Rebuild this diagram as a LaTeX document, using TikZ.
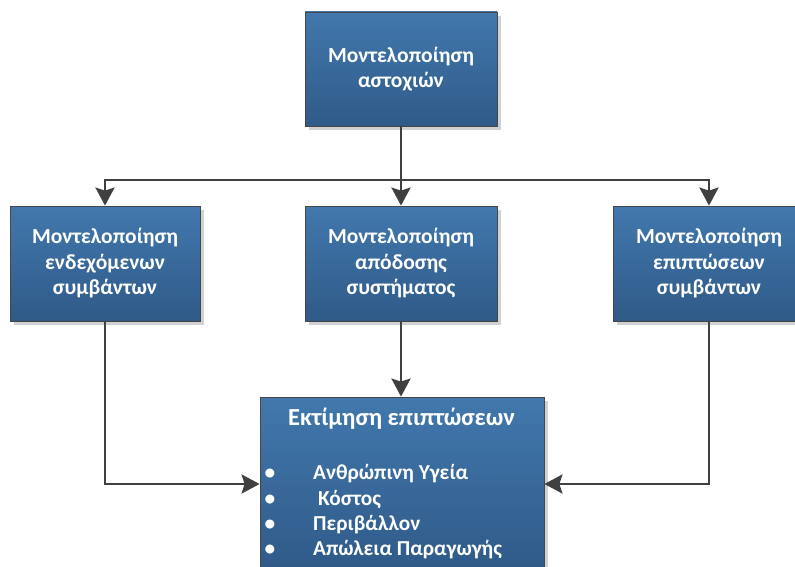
\documentclass[tikz,border=0pt]{standalone}
\usepackage{fontspec}
\setmainfont{Carlito}
\usetikzlibrary{arrows.meta,shadows}
\definecolor{boxtop}{RGB}{66,120,173}
\definecolor{boxbot}{RGB}{47,90,136}
\definecolor{boxedge}{RGB}{70,70,70}
\definecolor{wire}{RGB}{64,64,64}
\tikzset{
  modelbox/.style={rectangle, draw=boxedge, line width=0.8pt,
    top color=boxtop, bottom color=boxbot,
    general shadow={fill=black!18, shadow xshift=4pt, shadow yshift=-4pt},
    text=white, align=center, inner sep=0pt,
    font=\bfseries\fontsize{21.5}{25.5}\selectfont},
  wirearrow/.style={draw=wire, line width=2.8pt,
    -{Stealth[length=18pt,width=19pt,inset=3pt]}},
  boxtext/.style={text=white, inner sep=0pt, anchor=base west,
    font=\bfseries\fontsize{21.3}{25.5}\selectfont},
}
\begin{document}
\begin{tikzpicture}[x=1pt,y=-1pt]
  \useasboundingbox (0,0) rectangle (795,567);
  \clip (0,0) rectangle (795,567);

  % boxes
  \node[modelbox, minimum width=192pt, minimum height=114pt] (goal) at (401,69)
    {Μοντελοποίηση\\αστοχιών};
  \node[modelbox, minimum width=190pt, minimum height=115pt] (events) at (105,263.5)
    {Μοντελοποίηση\\ενδεχόμενων\\συμβάντων};
  \node[modelbox, minimum width=192pt, minimum height=115pt] (perf) at (401,263.5)
    {Μοντελοποίηση\\απόδοσης\\συστήματος};
  \node[modelbox, minimum width=192pt, minimum height=115pt] (impact) at (709,263.5)
    {Μοντελοποίηση\\επιπτώσεων\\συμβάντων};
  \node[modelbox, minimum width=284pt, minimum height=174pt] (assess) at (402,484) {};

  % contents of the assessment box
  \node[boxtext, anchor=base, font=\bfseries\fontsize{24.5}{28}\selectfont] (atitle) at (401.5,425) {Εκτίμηση επιπτώσεων};
  \node[boxtext, anchor=base] (b1) at (270,479) {•};
  \node[boxtext, anchor=base] (b2) at (270,505) {•};
  \node[boxtext, anchor=base] (b3) at (270,530) {•};
  \node[boxtext, anchor=base] (b4) at (270,555) {•};
  \node[boxtext] (i1) at (313,479) {Ανθρώπινη Υγεία};
  \node[boxtext] (i2) at (318,505) {Κόστος};
  \node[boxtext] (i3) at (313,530) {Περιβάλλον};
  \node[boxtext] (i4) at (313,555) {Απώλεια Παραγωγής};

  % connectors
  \coordinate (bus) at (401,180);
  \draw[wirearrow] (goal.south) -- (perf.north);
  \draw[wirearrow] (bus) -| (events.north);
  \draw[wirearrow] (bus) -| (impact.north);
  \draw[wirearrow] (perf.south) -- (perf.south |- assess.north);
  \draw[wirearrow] (events.south) |- (assess.west);
  \draw[wirearrow] (impact.south) |- (assess.east);
\end{tikzpicture}
\end{document}
